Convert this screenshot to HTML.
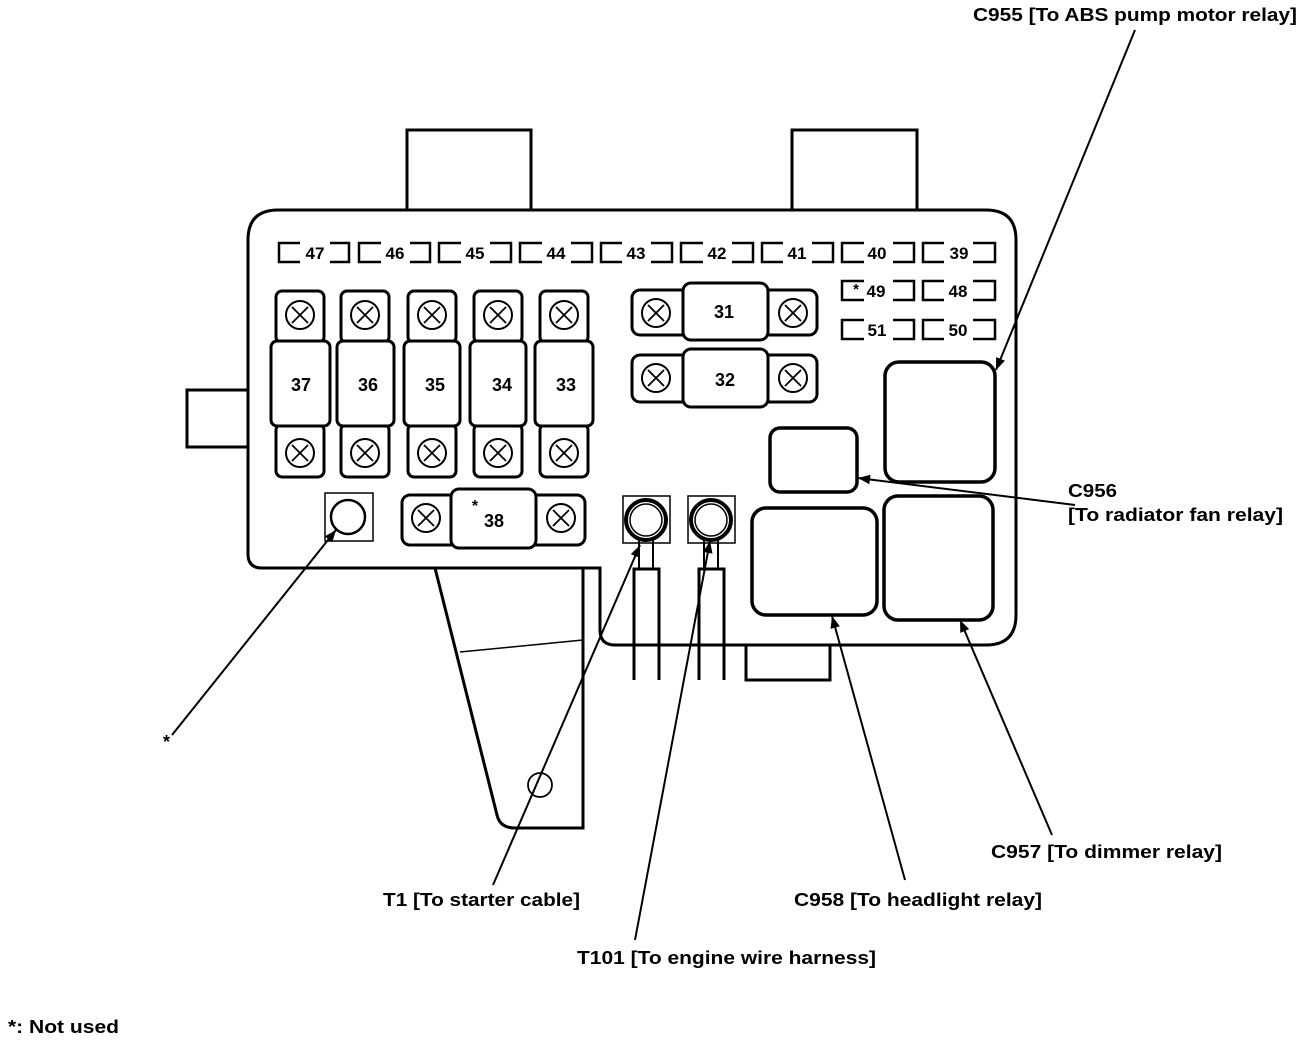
<!DOCTYPE html>
<html><head><style>
html,body{margin:0;padding:0;background:#fff;}
svg{display:block;}
text{font-family:"Liberation Sans",sans-serif;font-weight:bold;fill:#000;}
</style></head><body>
<svg width="1312" height="1040" viewBox="0 0 1312 1040" xmlns="http://www.w3.org/2000/svg">
<defs>
<marker id="ah" viewBox="0 0 10 10" refX="10" refY="5" markerWidth="15" markerHeight="12" orient="auto" markerUnits="userSpaceOnUse"><path d="M0,1 L10,5 L0,9 z" fill="#000"/></marker>
<g id="bx"><circle r="14" fill="none" stroke="#000" stroke-width="2"/><path d="M-8,-8 L8,8 M8,-8 L-8,8" stroke="#000" stroke-width="1.8"/></g>
</defs>
<g fill="none" stroke="#000" stroke-width="3">
<path d="M407,212 V130 H531 V212"/>
<path d="M792,212 V130 H917 V212"/>
<path d="M248,390 H187 V447 H248"/>
<path d="M248,240 Q248,210 278,210 H986 Q1016,210 1016,240 V615 Q1016,645 986,645 H615 Q600,645 600,630 V568 H262 Q248,568 248,554 Z" fill="#fff"/>
<path d="M435,568 L497,815 Q500,828 515,828 H583 V568"/>
<path d="M460,652 L583,640" stroke-width="1.5"/>
<circle cx="540" cy="785" r="12" stroke-width="1.8"/>
<path d="M746,645 V680 H830 V645"/>
</g>
<g fill="none" stroke="#000" stroke-width="2.5">
<path d="M300,243 H279 V262 H300"/><path d="M330,243 H349 V262 H330"/>
<path d="M381,243 H359 V262 H381"/><path d="M410,243 H430 V262 H410"/>
<path d="M461,243 H439 V262 H461"/><path d="M490,243 H511 V262 H490"/>
<path d="M542,243 H520 V262 H542"/><path d="M571,243 H592 V262 H571"/>
<path d="M622,243 H601 V262 H622"/><path d="M651,243 H672 V262 H651"/>
<path d="M703,243 H681 V262 H703"/><path d="M732,243 H753 V262 H732"/>
<path d="M783,243 H762 V262 H783"/><path d="M812,243 H833 V262 H812"/>
<path d="M864,243 H842 V262 H864"/><path d="M893,243 H914 V262 H893"/>
<path d="M944,243 H923 V262 H944"/><path d="M973,243 H995 V262 H973"/>
<path d="M864,281 H842 V300 H864"/><path d="M893,281 H914 V300 H893"/>
<path d="M944,281 H923 V300 H944"/><path d="M973,281 H995 V300 H973"/>
<path d="M864,320 H842 V339 H864"/><path d="M893,320 H914 V339 H893"/>
<path d="M944,320 H923 V339 H944"/><path d="M973,320 H995 V339 H973"/>
</g>
<g font-size="17" text-anchor="middle">
<text x="315" y="259">47</text><text x="395" y="259">46</text><text x="475" y="259">45</text><text x="556" y="259">44</text><text x="636" y="259">43</text><text x="717" y="259">42</text><text x="797" y="259">41</text><text x="877" y="259">40</text><text x="959" y="259">39</text>
<text x="876" y="297">49</text><text x="856" y="294" font-size="15">*</text><text x="958" y="297">48</text><text x="877" y="336">51</text><text x="958" y="336">50</text>
</g>
<g fill="#fff" stroke="#000" stroke-width="3">
<rect x="276" y="291" width="48" height="52" rx="6"/><rect x="276" y="424" width="48" height="53" rx="6"/><rect x="271" y="341" width="59" height="85" rx="6"/>
<rect x="341" y="291" width="48" height="52" rx="6"/><rect x="341" y="424" width="48" height="53" rx="6"/><rect x="337" y="341" width="57" height="85" rx="6"/>
<rect x="408" y="291" width="48" height="52" rx="6"/><rect x="408" y="424" width="48" height="53" rx="6"/><rect x="404" y="341" width="56" height="85" rx="6"/>
<rect x="474" y="291" width="48" height="52" rx="6"/><rect x="474" y="424" width="48" height="53" rx="6"/><rect x="470" y="341" width="56" height="85" rx="6"/>
<rect x="540" y="291" width="48" height="52" rx="6"/><rect x="540" y="424" width="48" height="53" rx="6"/><rect x="535" y="341" width="58" height="85" rx="6"/>
<rect x="632" y="290" width="185" height="45" rx="8"/><rect x="683" y="283" width="85" height="57" rx="8"/>
<rect x="632" y="355" width="185" height="47" rx="8"/><rect x="683" y="349" width="85" height="58" rx="8"/>
<rect x="402" y="495" width="183" height="50" rx="8"/><rect x="451" y="489" width="85" height="59" rx="8"/>
</g>
<use href="#bx" x="300" y="315"/><use href="#bx" x="300" y="453"/>
<use href="#bx" x="365" y="315"/><use href="#bx" x="365" y="453"/>
<use href="#bx" x="432" y="315"/><use href="#bx" x="432" y="453"/>
<use href="#bx" x="498" y="315"/><use href="#bx" x="498" y="453"/>
<use href="#bx" x="564" y="315"/><use href="#bx" x="564" y="453"/>
<use href="#bx" x="656" y="313"/><use href="#bx" x="793" y="313"/>
<use href="#bx" x="656" y="378"/><use href="#bx" x="793" y="378"/>
<use href="#bx" x="426" y="518"/><use href="#bx" x="561" y="518"/>
<g font-size="18" text-anchor="middle">
<text x="301" y="391">37</text><text x="368" y="391">36</text><text x="435" y="391">35</text><text x="502" y="391">34</text><text x="566" y="391">33</text>
<text x="724" y="318">31</text><text x="725" y="386">32</text><text x="494" y="527">38</text><text x="475" y="511" font-size="16">*</text>
</g>
<rect x="325" y="493" width="48" height="48" fill="none" stroke="#000" stroke-width="1.5"/>
<circle cx="348" cy="517" r="17" fill="none" stroke="#000" stroke-width="2.5"/>
<g fill="none" stroke="#000">
<rect x="623" y="496" width="47" height="47" stroke-width="1.5"/>
<circle cx="646" cy="520" r="20" stroke-width="4"/><circle cx="646" cy="520" r="16" stroke-width="1.5"/>
<path d="M639,540 V568 M653,540 V568" stroke-width="2"/>
<path d="M634,680 V569 H659 V680" stroke-width="3"/>
<rect x="688" y="496" width="47" height="47" stroke-width="1.5"/>
<circle cx="711" cy="520" r="20" stroke-width="4"/><circle cx="711" cy="520" r="16" stroke-width="1.5"/>
<path d="M704,540 V568 M718,540 V568" stroke-width="2"/>
<path d="M699,680 V569 H724 V680" stroke-width="3"/>
</g>
<g fill="#fff" stroke="#000" stroke-width="3.5">
<rect x="885" y="362" width="110" height="120" rx="14"/>
<rect x="770" y="428" width="87" height="64" rx="10"/>
<rect x="752" y="508" width="125" height="107" rx="14"/>
<rect x="884" y="496" width="109" height="124" rx="14"/>
</g>
<g stroke="#000" stroke-width="2" marker-end="url(#ah)" fill="none">
<line x1="1135" y1="30" x2="996" y2="370"/>
<line x1="1075" y1="505" x2="858" y2="478"/>
<line x1="905" y1="880" x2="832" y2="616"/>
<line x1="1052" y1="835" x2="960" y2="620"/>
<line x1="493" y1="885" x2="640" y2="545"/>
<line x1="635" y1="940" x2="710" y2="541"/>
<line x1="172" y1="735" x2="336" y2="530"/>
</g>
<g font-size="18">
<text x="973" y="21" textLength="324" lengthAdjust="spacingAndGlyphs">C955 [To ABS pump motor relay]</text>
<text x="1068" y="497" textLength="49" lengthAdjust="spacingAndGlyphs">C956</text>
<text x="1068" y="521" textLength="215" lengthAdjust="spacingAndGlyphs">[To radiator fan relay]</text>
<text x="991" y="858" textLength="231" lengthAdjust="spacingAndGlyphs">C957 [To dimmer relay]</text>
<text x="794" y="906" textLength="248" lengthAdjust="spacingAndGlyphs">C958 [To headlight relay]</text>
<text x="383" y="906" textLength="197" lengthAdjust="spacingAndGlyphs">T1 [To starter cable]</text>
<text x="577" y="964" textLength="299" lengthAdjust="spacingAndGlyphs">T101 [To engine wire harness]</text>
<text x="163" y="748">*</text>
<text x="8" y="1033" textLength="111" lengthAdjust="spacingAndGlyphs">*: Not used</text>
</g>
</svg>
</body></html>
